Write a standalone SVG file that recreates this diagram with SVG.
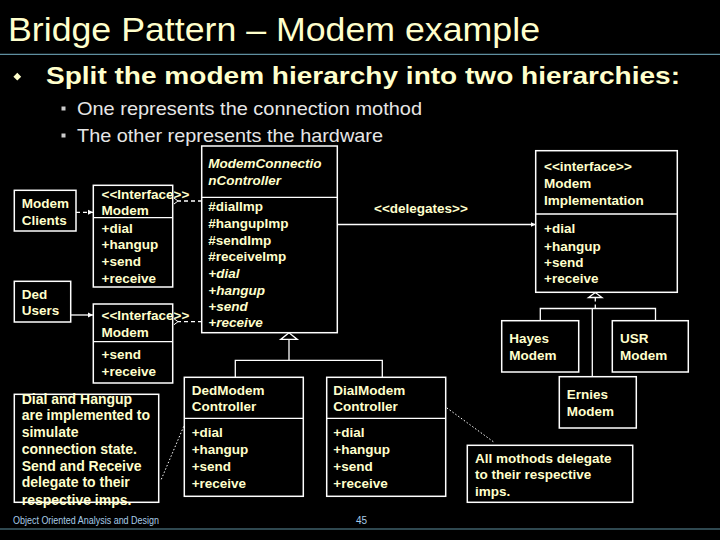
<svg xmlns="http://www.w3.org/2000/svg" width="720" height="540" viewBox="0 0 720 540">
<defs>
<style>
.box{fill:#000;stroke:#fff;stroke-width:1.5}
.ln{fill:none;stroke:#fff;stroke-width:1.3}
.dash{fill:none;stroke:#fff;stroke-width:1.3;stroke-dasharray:4,3}
.dot{fill:none;stroke:#fff;stroke-width:1;stroke-dasharray:1.5,2}
.t{font-family:"Liberation Sans",Arial,sans-serif;font-weight:bold;font-size:13.5px;fill:#FFFFCC}
.ti{font-style:italic}
.nt{font-size:14px}
.rule{stroke:#5F8FA0;stroke-width:1.2}
</style>
<marker id="fa" markerWidth="6" markerHeight="6" refX="5" refY="3" orient="auto" markerUnits="userSpaceOnUse">
<path d="M0,0.5 L5,3 L0,5.5 Z" fill="#fff"/>
</marker>
<marker id="oa" markerWidth="8" markerHeight="8" refX="1" refY="4" orient="auto" markerUnits="userSpaceOnUse">
<path d="M5,1 L1,4 L5,7" fill="none" stroke="#fff" stroke-width="1"/>
</marker>
</defs>
<rect width="720" height="540" fill="#000"/>

<g id="header">
<text x="8" y="40.7" font-family="Liberation Sans,Arial,sans-serif" font-size="34" fill="#FFFFCC" textLength="532" lengthAdjust="spacingAndGlyphs">Bridge Pattern – Modem example</text>
<line x1="0" y1="54.3" x2="720" y2="54.3" class="rule"/>
<polygon points="17.3,72.8 21.2,76.7 17.3,80.6 13.4,76.7" fill="#FFFFCC"/>
<text x="46" y="83.5" font-family="Liberation Sans,Arial,sans-serif" font-weight="bold" font-size="24" fill="#FFFFCC" textLength="634" lengthAdjust="spacingAndGlyphs">Split the modem hierarchy into two hierarchies:</text>
<rect x="61.5" y="106.5" width="4" height="4" fill="#CCCCCC"/>
<text x="77" y="115" font-family="Liberation Sans,Arial,sans-serif" font-size="19" fill="#E6E6E6" textLength="345" lengthAdjust="spacingAndGlyphs">One represents the connection mothod</text>
<rect x="61.5" y="133.5" width="4" height="4" fill="#CCCCCC"/>
<text x="77" y="142" font-family="Liberation Sans,Arial,sans-serif" font-size="19" fill="#E6E6E6" textLength="306" lengthAdjust="spacingAndGlyphs">The other represents the hardware</text>
</g>

<g id="connectors">
<line x1="76" y1="212.3" x2="93" y2="212.3" class="dash" stroke-dasharray="3,2" marker-end="url(#fa)"/>
<line x1="71" y1="315" x2="93" y2="315" class="ln" marker-end="url(#fa)"/>
<line x1="202" y1="201" x2="178" y2="201" class="dash" marker-end="url(#oa)"/>
<line x1="202" y1="321.7" x2="178" y2="321.7" class="dash" marker-end="url(#oa)"/>
<line x1="337.3" y1="224.5" x2="535.7" y2="224.5" class="ln" marker-end="url(#fa)"/>
<polygon points="289,332.8 280.7,339.4 297.3,339.4" class="ln"/>
<polyline points="289,339.4 289,360.3" class="ln"/>
<polyline points="235.3,377.3 235.3,360.3 382.3,360.3 382.3,377.3" class="ln"/>
<polygon points="595.3,292.5 588.5,297.5 602,297.5" class="ln"/>
<line x1="595.3" y1="297.5" x2="595.3" y2="308.5" class="dash" stroke-dasharray="3,2"/>
<polyline points="540.3,320.7 540.3,308.5 655.5,308.5 655.5,320.7" class="ln"/>
<line x1="592.3" y1="308.5" x2="592.3" y2="376.7" class="ln"/>
<line x1="161.3" y1="479.3" x2="184.3" y2="425" class="dot"/>
<line x1="493.3" y1="441.7" x2="446" y2="407.3" class="dot"/>
<text x="374" y="213" class="t">&lt;&lt;delegates&gt;&gt;</text>
</g>

<g id="modem-clients">
<rect x="14.3" y="190.3" width="61.7" height="40.7" class="box"/>
<text x="21.7" y="208" class="t">Modem</text>
<text x="21.7" y="225" class="t">Clients</text>
</g>

<g id="ded-users">
<rect x="14.3" y="281.3" width="56.4" height="40.7" class="box"/>
<text x="21.7" y="298.7" class="t">Ded</text>
<text x="21.7" y="314.7" class="t">Users</text>
</g>

<g id="modem-interface-1">
<rect x="93.3" y="185.3" width="79.4" height="101.7" class="box"/>
<line x1="93.3" y1="217.7" x2="172.7" y2="217.7" class="ln" stroke-width="1.5"/>
<text x="101.5" y="198.7" class="t">&lt;&lt;Interface&gt;&gt;</text>
<text x="101.5" y="215" class="t">Modem</text>
<text x="101.5" y="233" class="t">+dial</text>
<text x="101.5" y="249.4" class="t">+hangup</text>
<text x="101.5" y="266" class="t">+send</text>
<text x="101.5" y="282.7" class="t">+receive</text>
</g>

<g id="modem-interface-2">
<rect x="93.3" y="304" width="79.4" height="79" class="box"/>
<line x1="93.3" y1="341.7" x2="172.7" y2="341.7" class="ln" stroke-width="1.5"/>
<text x="101.5" y="319.7" class="t">&lt;&lt;Interface&gt;&gt;</text>
<text x="101.5" y="337" class="t">Modem</text>
<text x="101.5" y="358.7" class="t">+send</text>
<text x="101.5" y="376" class="t">+receive</text>
</g>

<g id="modem-connection-controller">
<rect x="201.7" y="146" width="135.6" height="186.7" class="box"/>
<line x1="201.7" y1="197.3" x2="337.3" y2="197.3" class="ln" stroke-width="1.5"/>
<text x="208.3" y="168" class="t ti">ModemConnectio</text>
<text x="208.3" y="185.4" class="t ti">nController</text>
<text x="208.3" y="211.4" class="t">#dialImp</text>
<text x="208.3" y="228" class="t">#hangupImp</text>
<text x="208.3" y="244.5" class="t">#sendImp</text>
<text x="208.3" y="261.4" class="t">#receiveImp</text>
<text x="208.3" y="278" class="t ti">+dial</text>
<text x="208.3" y="295.4" class="t ti">+hangup</text>
<text x="208.3" y="311.4" class="t ti">+send</text>
<text x="208.3" y="327.4" class="t ti">+receive</text>
</g>

<g id="modem-implementation">
<rect x="535.7" y="150.7" width="141.6" height="141.6" class="box"/>
<line x1="535.7" y1="214" x2="677.3" y2="214" class="ln" stroke-width="1.5"/>
<text x="544" y="170.7" class="t">&lt;&lt;interface&gt;&gt;</text>
<text x="544" y="188" class="t">Modem</text>
<text x="544" y="205" class="t">Implementation</text>
<text x="544" y="233" class="t">+dial</text>
<text x="544" y="250.7" class="t">+hangup</text>
<text x="544" y="267" class="t">+send</text>
<text x="544" y="282.7" class="t">+receive</text>
</g>

<g id="hayes-modem">
<rect x="501.7" y="320.7" width="77" height="51.3" class="box"/>
<text x="509.3" y="343.4" class="t">Hayes</text>
<text x="509.3" y="360" class="t">Modem</text>
</g>

<g id="usr-modem">
<rect x="612.3" y="320.7" width="76" height="51.3" class="box"/>
<text x="620" y="343.4" class="t">USR</text>
<text x="620" y="360" class="t">Modem</text>
</g>

<g id="ernies-modem">
<rect x="559.3" y="376.7" width="77" height="51.3" class="box"/>
<text x="566.7" y="399" class="t">Ernies</text>
<text x="566.7" y="416.4" class="t">Modem</text>
</g>

<g id="ded-modem-controller">
<rect x="184.3" y="377.3" width="119" height="119" class="box"/>
<line x1="184.3" y1="418.3" x2="303.3" y2="418.3" class="ln" stroke-width="1.5"/>
<text x="191.7" y="394.7" class="t">DedModem</text>
<text x="191.7" y="411.4" class="t">Controller</text>
<text x="191.7" y="437" class="t">+dial</text>
<text x="191.7" y="454" class="t">+hangup</text>
<text x="191.7" y="471" class="t">+send</text>
<text x="191.7" y="488" class="t">+receive</text>
</g>

<g id="dial-modem-controller">
<rect x="326.7" y="377.3" width="119" height="119" class="box"/>
<line x1="326.7" y1="418.3" x2="445.7" y2="418.3" class="ln" stroke-width="1.5"/>
<text x="333.3" y="394.7" class="t">DialModem</text>
<text x="333.3" y="411.4" class="t">Controller</text>
<text x="333.3" y="437" class="t">+dial</text>
<text x="333.3" y="454" class="t">+hangup</text>
<text x="333.3" y="471" class="t">+send</text>
<text x="333.3" y="488" class="t">+receive</text>
</g>

<g id="note-left">
<rect x="14.3" y="394.3" width="144.4" height="108" class="box" stroke-width="1.2"/>
<text x="21.7" y="403.7" class="t nt">Dial and Hangup</text>
<text x="21.7" y="420.4" class="t nt">are implemented to</text>
<text x="21.7" y="437" class="t nt">simulate</text>
<text x="21.7" y="454" class="t nt">connection state.</text>
<text x="21.7" y="470.7" class="t nt">Send and Receive</text>
<text x="21.7" y="487.4" class="t nt">delegate to their</text>
<text x="21.7" y="504.7" class="t nt">respective imps.</text>
</g>

<g id="note-right">
<rect x="467.3" y="445.3" width="165.4" height="57" class="box" stroke-width="1.2"/>
<text x="475" y="463.4" class="t">All mothods delegate</text>
<text x="475" y="479.4" class="t">to their respective</text>
<text x="475" y="496" class="t">imps.</text>
</g>

<g id="footer">
<text x="13" y="524" font-family="Liberation Sans,Arial,sans-serif" font-size="10" fill="#A8CCE8" textLength="146" lengthAdjust="spacingAndGlyphs">Object Oriented Analysis and Design</text>
<text x="356" y="524" font-family="Liberation Sans,Arial,sans-serif" font-size="10" fill="#A8CCE8">45</text>
<line x1="0" y1="529" x2="720" y2="529" class="rule"/>
</g>
</svg>
